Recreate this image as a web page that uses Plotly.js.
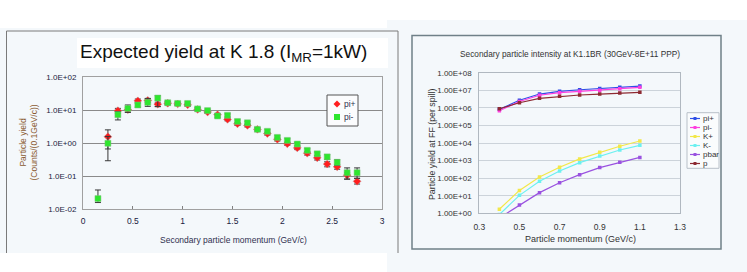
<!DOCTYPE html>
<html><head><meta charset="utf-8">
<script src="https://cdn.plot.ly/plotly-3.0.1.min.js"></script>
<style>html,body{margin:0;padding:0;background:#fff}#chart{width:747px;height:272px}</style>
</head><body><div id="chart"></div>
<script>
// ---------- Left chart data: Expected yield at K1.8 ----------
const leftTitle = 'Expected yield at K 1.8 (I<sub>MR</sub>=1kW)';
const leftXTitle = 'Secondary particle momentum (GeV/c)';
const leftYTitle = 'Particle yield<br>(Counts/(0.1GeV/c))';
const leftNames = ['pi+', 'pi-'];
const piPlusX = [0.25,0.35,0.45,0.55,0.65,0.75,0.85,0.95,1.05,1.15,1.25,1.35,1.45,1.55,1.65,1.75,1.85,1.95,2.05,2.15,2.25,2.35,2.45,2.55,2.65,2.75];
const piPlusY = [1.55,9.5,10.2,19,19.5,15,16,15.3,14.3,10.4,8.7,7.2,5.2,3.8,3.4,2.6,1.93,1.29,0.95,0.71,0.49,0.355,0.23,0.19,0.105,0.069];
const piPlusErrUp = [0.95,1.7,1.6,2.5,2.8,2.2,1.8,1.6,1.5,1.0,0.8,0.7,0.5,0.4,0.35,0.25,0.2,0.14,0.1,0.08,0.06,0.05,0.04,0.03,0.02,0.015];
const piPlusErrDn = [0.89,1.5,1.6,2.5,2.8,2.2,1.8,1.6,1.5,1.0,0.8,0.7,0.5,0.4,0.35,0.25,0.2,0.14,0.1,0.08,0.06,0.05,0.04,0.03,0.025,0.012];
const piMinusX = [0.15,0.25,0.35,0.45,0.55,0.65,0.75,0.85,0.95,1.05,1.15,1.25,1.35,1.45,1.55,1.65,1.75,1.85,1.95,2.05,2.15,2.25,2.35,2.45,2.55,2.65,2.75];
const piMinusY = [0.0207,0.98,7.2,11.2,14.2,17,23,16.6,15.8,15.8,10.8,9.6,6.6,6.9,4.5,4.1,2.6,2.26,1.48,1.2,0.93,0.6,0.47,0.38,0.26,0.126,0.126];
const piMinusErrUp = [0.017,0.6,1.8,3.0,2.0,5.5,4.0,1.8,1.7,1.7,1.1,1.0,0.7,0.7,0.5,0.45,0.3,0.25,0.17,0.14,0.1,0.07,0.06,0.06,0.05,0.05,0.05];
const piMinusErrDn = [0.005,0.69,2.2,2.7,2.0,4.1,10.4,1.8,1.7,1.7,1.1,1.0,0.7,0.7,0.5,0.45,0.3,0.25,0.17,0.14,0.1,0.07,0.06,0.06,0.05,0.045,0.04];
const leftYTickVals = [0.01,0.1,1,10,100];
const leftYTickText = ['1.0E-02','1.0E-01','1.0E+00','1.0E+01','1.0E+02'];
const leftXTickVals = [0,0.5,1,1.5,2,2.5,3];
const leftXTickText = ['0','0.5','1','1.5','2','2.5','3'];

// ---------- Right chart data: Secondary particle intensity at K1.1BR ----------
const rightTitle = 'Secondary particle intensity at K1.1BR (30GeV-8E+11 PPP)';
const rightXTitle = 'Particle momentum (GeV/c)';
const rightYTitle = 'Particle yield at FF (per spill)';
const momentum = [0.4,0.5,0.6,0.7,0.8,0.9,1.0,1.1];
const rightNames = ['pi+','pi-','K+','K-','pbar','p'];
const piPlusYield  = [8.2e5,2.7e6,6.1e6,8.7e6,1.07e7,1.28e7,1.5e7,1.73e7];
const piMinusYield = [6.9e5,2.3e6,5.2e6,7.3e6,8.7e6,1.0e7,1.24e7,1.47e7];
const kPlusYield   = [1.7,20,117,416,1240,2950,6500,13000];
const kMinusYield  = [0.85,10.5,66,257,760,1820,4000,7400];
const pbarYield    = [0.54,3.0,15,55,158,400,800,1520];
const protonYield  = [8.9e5,1.96e6,3.5e6,4.5e6,5.4e6,6.1e6,6.9e6,7.6e6];
const rightYTickVals = [1,10,100,1e3,1e4,1e5,1e6,1e7,1e8];
const rightYTickText = ['1.00E+00','1.00E+01','1.00E+02','1.00E+03','1.00E+04','1.00E+05','1.00E+06','1.00E+07','1.00E+08'];
const rightXTickVals = [0.3,0.5,0.7,0.9,1.1,1.3];
const rightXTickText = ['0.3','0.5','0.7','0.9','1.1','1.3'];

// ---------- styles ----------
const W = 747, H = 272;
const X = p => p / W, Y = p => 1 - p / H;
const FONT = 'Liberation Sans, Arial, sans-serif';
const leftColors = ['#ff1e1e', '#2ee62e'];
const rightColors = ['#2f4fe6', '#ff3fe0', '#f2e84a', '#6cf0f0', '#9a52e0', '#8e2a32'];
const rightSeries = [piPlusYield, piMinusYield, kPlusYield, kMinusYield, pbarYield, protonYield];
const bgLight = '#f4f8fb';

const traces = [
  {x: piPlusX, y: piPlusY, name: leftNames[0], type: 'scatter', mode: 'markers', xaxis: 'x', yaxis: 'y',
   marker: {symbol: 'diamond', size: 6, color: leftColors[0], line: {color: '#c08080', width: 0.5}},
   error_y: {type: 'data', symmetric: false, array: piPlusErrUp, arrayminus: piPlusErrDn, color: '#383838', thickness: 1, width: 3},
   showlegend: false},
  {x: piMinusX, y: piMinusY, name: leftNames[1], type: 'scatter', mode: 'markers', xaxis: 'x', yaxis: 'y',
   marker: {symbol: 'square', size: 6, color: leftColors[1], line: {color: '#80c080', width: 0.5}},
   error_y: {type: 'data', symmetric: false, array: piMinusErrUp, arrayminus: piMinusErrDn, color: '#383838', thickness: 1, width: 3},
   showlegend: false}
];
rightSeries.forEach((ys, i) => traces.push({
  x: momentum, y: ys, name: rightNames[i], type: 'scatter', mode: 'lines+markers', xaxis: 'x2', yaxis: 'y2',
  line: {color: rightColors[i], width: 1.2}, marker: {symbol: 'square', size: 3.5, color: rightColors[i]},
  showlegend: false
}));

const shapes = [
  {type: 'rect', xref: 'paper', yref: 'paper', x0: 0, x1: X(398), y0: Y(28), y1: 0, fillcolor: bgLight, line: {width: 0}, layer: 'below'},
  {type: 'rect', xref: 'paper', yref: 'paper', x0: X(387), x1: 1, y0: Y(20), y1: 0, fillcolor: bgLight, line: {width: 0}, layer: 'below'},
  {type: 'rect', xref: 'paper', yref: 'paper', x0: 0, x1: X(387), y0: Y(253), y1: 0, fillcolor: '#ffffff', line: {width: 0}, layer: 'below'},
  {type: 'path', xref: 'paper', yref: 'paper', path: `M${X(6.5)},${Y(253)} L${X(6.5)},${Y(31)} L${X(398)},${Y(31)} L${X(398)},${Y(253)}`, line: {color: '#7a7a7a', width: 1}},
  {type: 'rect', xref: 'paper', yref: 'paper', x0: X(77), x1: X(388), y0: Y(38), y1: Y(68), fillcolor: '#ffffff', line: {width: 0}, layer: 'below'},
  {type: 'rect', xref: 'paper', yref: 'paper', x0: X(412), x1: X(721), y0: Y(35.5), y1: Y(249), line: {color: '#6f8088', width: 1.5}},
  // legend boxes
  {type: 'rect', xref: 'paper', yref: 'paper', x0: X(327), x1: X(358), y0: Y(95), y1: Y(126), fillcolor: '#fbfcfd', line: {color: '#555555', width: 1}},
  {type: 'rect', xref: 'paper', yref: 'paper', x0: X(687), x1: X(719), y0: Y(112.7), y1: Y(168.3), fillcolor: '#fafcfd', line: {color: '#b8c0c8', width: 1}}
];
const annotations = [
  {text: leftTitle, x: X(223.5), y: Y(53), xref: 'paper', yref: 'paper', showarrow: false, xanchor: 'center', yanchor: 'middle', font: {family: FONT, size: 19, color: '#111111'}},
  {text: leftXTitle, x: X(233), y: Y(240), xref: 'paper', yref: 'paper', showarrow: false, xanchor: 'center', yanchor: 'middle', font: {family: FONT, size: 8.5, color: '#303050'}},
  {text: leftYTitle, x: X(27.5), y: Y(143), xref: 'paper', yref: 'paper', showarrow: false, textangle: -90, xanchor: 'center', yanchor: 'middle', font: {family: FONT, size: 8.5, color: '#8a5a30'}},
  {text: rightTitle, x: X(569.5), y: Y(54), xref: 'paper', yref: 'paper', showarrow: false, xanchor: 'center', yanchor: 'middle', font: {family: FONT, size: 8.3, color: '#333333'}},
  {text: rightXTitle, x: X(580), y: Y(239), xref: 'paper', yref: 'paper', showarrow: false, xanchor: 'center', yanchor: 'middle', font: {family: FONT, size: 9, color: '#333333'}},
  {text: rightYTitle, x: X(432), y: Y(144), xref: 'paper', yref: 'paper', showarrow: false, textangle: -90, xanchor: 'center', yanchor: 'middle', font: {family: FONT, size: 8.8, color: '#333333'}}
];
// manual legends (Plotly legend rows can't be this compact)
leftNames.forEach((n, i) => {
  const cy = 104 + i * 13, cx = 337;
  if (i === 0) {
    shapes.push({type: 'path', xref: 'paper', yref: 'paper', path: `M${X(cx)},${Y(cy-3.5)} L${X(cx+3.5)},${Y(cy)} L${X(cx)},${Y(cy+3.5)} L${X(cx-3.5)},${Y(cy)} Z`, fillcolor: leftColors[0], line: {width: 0}});
  } else {
    shapes.push({type: 'rect', xref: 'paper', yref: 'paper', x0: X(cx-3), x1: X(cx+3), y0: Y(cy-3), y1: Y(cy+3), fillcolor: leftColors[1], line: {width: 0}});
  }
  annotations.push({text: n, x: X(342), y: Y(cy), xref: 'paper', yref: 'paper', showarrow: false, xanchor: 'left', yanchor: 'middle', font: {family: FONT, size: 8.5, color: '#303050'}});
});
rightNames.forEach((n, i) => {
  const cy = 118.5 + i * 9;
  shapes.push({type: 'line', xref: 'paper', yref: 'paper', x0: X(690), x1: X(700), y0: Y(cy), y1: Y(cy), line: {color: rightColors[i], width: 1.2}});
  shapes.push({type: 'rect', xref: 'paper', yref: 'paper', x0: X(693.5), x1: X(696.5), y0: Y(cy-1.5), y1: Y(cy+1.5), fillcolor: rightColors[i], line: {width: 0}});
  annotations.push({text: n, x: X(700.5), y: Y(cy), xref: 'paper', yref: 'paper', showarrow: false, xanchor: 'left', yanchor: 'middle', font: {family: FONT, size: 8, color: '#333333'}});
});

const layout = {
  width: W, height: H, margin: {l: 0, r: 0, t: 0, b: 0},
  paper_bgcolor: '#ffffff', plot_bgcolor: 'rgba(0,0,0,0)', showlegend: false,
  font: {family: FONT, size: 8, color: '#222'},
  xaxis: {domain: [X(83), X(382)], range: [0, 3], tickvals: leftXTickVals, ticktext: leftXTickText, showgrid: false, zeroline: false,
          showline: true, mirror: true, linecolor: '#a0a0a0', linewidth: 1, ticks: 'inside', ticklen: 3, tickcolor: '#808080',
          tickfont: {family: FONT, size: 8.5, color: '#1a1a40'}, ticklabelstandoff: 4, anchor: 'y'},
  yaxis: {domain: [Y(209), Y(77)], type: 'log', range: [-2, 2], tickvals: leftYTickVals, ticktext: leftYTickText,
          showgrid: true, gridcolor: '#8a8a8a', gridwidth: 1, zeroline: false, showline: true, mirror: true, linecolor: '#a0a0a0', linewidth: 1,
          ticks: '', tickfont: {family: FONT, size: 8, color: '#1a1a40'}, ticklabelstandoff: 4, anchor: 'x'},
  xaxis2: {domain: [X(479.3), X(680)], range: [0.3, 1.3], tickvals: rightXTickVals, ticktext: rightXTickText, showgrid: false, zeroline: false,
          showline: true, mirror: true, linecolor: '#b0b8c0', linewidth: 1, ticks: '',
          tickfont: {family: FONT, size: 8.5, color: '#333'}, ticklabelstandoff: 5, anchor: 'y2'},
  yaxis2: {domain: [Y(213.3), Y(72.7)], type: 'log', range: [0, 8], tickvals: rightYTickVals, ticktext: rightYTickText,
          showgrid: true, gridcolor: '#ccd3da', gridwidth: 1, zeroline: false, showline: true, mirror: true, linecolor: '#b0b8c0', linewidth: 1,
          ticks: '', tickfont: {family: FONT, size: 8, color: '#333'}, ticklabelstandoff: 5, anchor: 'x2'},
  shapes: shapes, annotations: annotations
};
Plotly.newPlot('chart', traces, layout, {displayModeBar: false, staticPlot: true});
</script></body></html>
